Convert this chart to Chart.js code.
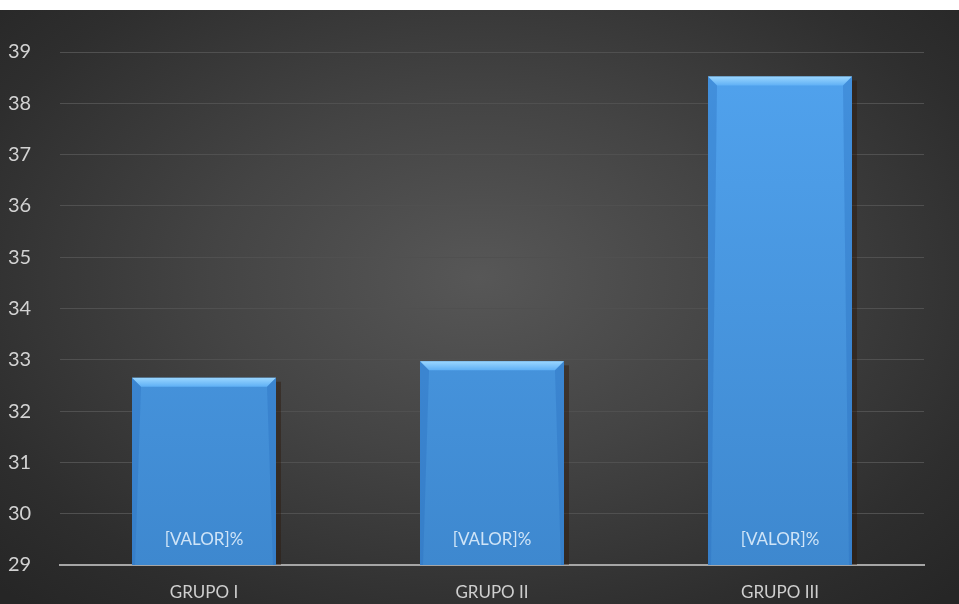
<!DOCTYPE html>
<html><head><meta charset="utf-8">
<script src="https://cdn.jsdelivr.net/npm/chart.js@4/dist/chart.umd.min.js"></script>
<style>
html,body{margin:0;padding:0;background:#fff;}
#wrap{position:absolute;left:0;top:10px;width:959px;height:594px;
background:radial-gradient(ellipse 70% 75% at 50% 45%, #575757 0%, #444 40%, #2e2e2e 80%, #262626 100%);}
</style></head><body>
<div id="wrap"><canvas id="c" width="959" height="594"></canvas></div>
<script>
const categories = ["GRUPO I", "GRUPO II", "GRUPO III"];
const values = [32.65, 32.97, 38.52];
const barLabels = ["[VALOR]%", "[VALOR]%", "[VALOR]%"];
const yMin = 29, yMax = 39;

const bevel = {
  id: 'bevel',
  afterDatasetsDraw(chart) {
    const ctx = chart.ctx;
    const meta = chart.getDatasetMeta(0);
    const ys = chart.scales.y;
    const b = ys.getPixelForValue(yMin);
    meta.data.forEach((bar, i) => {
      const w = bar.width, l = bar.x - w/2, r = bar.x + w/2, t = bar.y;
      ctx.save();
      ctx.fillStyle = 'rgba(45,25,10,0.45)';
      ctx.fillRect(r, t + 4, 5, b - t - 4);
      const bh = 9;
      const g = ctx.createLinearGradient(0, t, 0, t + bh);
      g.addColorStop(0, '#9ad6ff'); g.addColorStop(1, '#5fb0f5');
      ctx.fillStyle = g;
      ctx.beginPath();
      ctx.moveTo(l, t); ctx.lineTo(r, t); ctx.lineTo(r - bh, t + bh); ctx.lineTo(l + bh, t + bh); ctx.closePath();
      ctx.fill();
      ctx.fillStyle = 'rgba(40,110,190,0.35)';
      ctx.beginPath(); ctx.moveTo(l, t); ctx.lineTo(l + bh, t + bh); ctx.lineTo(l + 3, b); ctx.lineTo(l, b); ctx.closePath(); ctx.fill();
      ctx.beginPath(); ctx.moveTo(r, t); ctx.lineTo(r - bh, t + bh); ctx.lineTo(r - 3, b); ctx.lineTo(r, b); ctx.closePath(); ctx.fill();
      ctx.fillStyle = '#cfe4f7';
      ctx.font = '17px Lato, "Open Sans", sans-serif';
      ctx.textAlign = 'center'; ctx.textBaseline = 'middle';
      ctx.fillText(barLabels[i], bar.x, b - 25);
      ctx.restore();
    });
  }
};

const ctx = document.getElementById('c').getContext('2d');
new Chart(ctx, {
  type: 'bar',
  data: {
    labels: categories,
    datasets: [{
      data: values,
      backgroundColor: (c) => {
        const ca = c.chart.chartArea;
        if (!ca) return '#4a9be6';
        const g = c.chart.ctx.createLinearGradient(0, ca.top, 0, ca.bottom);
        g.addColorStop(0, '#51a3ee'); g.addColorStop(1, '#3e88cf');
        return g;
      },
      borderWidth: 0,
      barPercentage: 0.5,
      categoryPercentage: 1.0
    }]
  },
  options: {
    responsive: false,
    animation: false,
    layout: { padding: { left: 8, right: 35, top: 42, bottom: 0 } },
    plugins: { legend: { display: false }, tooltip: { enabled: false } },
    scales: {
      x: {
        grid: { display: false, drawTicks: false },
        border: { display: true, color: '#a6a6a6', width: 2 },
        ticks: { color: '#cfcfcf', font: { size: 17, family: 'Lato, "Open Sans", sans-serif' }, padding: 17 },
        afterFit(s) { s.height = 39; }
      },
      y: {
        min: yMin, max: yMax,
        grid: { color: '#505050', lineWidth: 1, drawTicks: false },
        border: { display: false },
        ticks: { stepSize: 1, color: '#d2d2d2', crossAlign: 'far', padding: 0,
          font: { size: 20, family: 'Lato, "Open Sans", sans-serif' } },
        afterFit(s) { s.width = 52; }
      }
    }
  },
  plugins: [bevel]
});
</script>
</body></html>
